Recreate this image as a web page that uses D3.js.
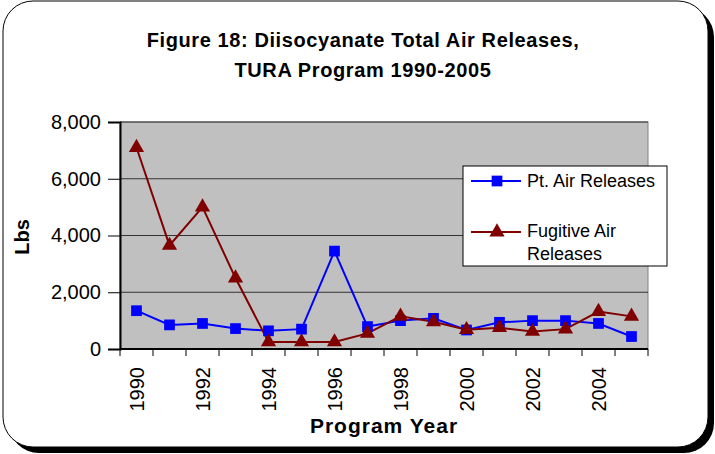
<!DOCTYPE html>
<html>
<head>
<meta charset="utf-8">
<script src="https://cdn.jsdelivr.net/npm/d3@7"></script>
<style>
  body { margin: 0; background: #fff; }
  svg { display: block; font-family: "Liberation Sans", Arial, sans-serif; }
</style>
</head>
<body>
<div id="chart"></div>
<script>
// Datos
const years = ["1990","1991","1992","1993","1994","1995","1996","1997","1998","1999","2000","2001","2002","2003","2004","2005"];
const ptAir = [1350, 850, 900, 720, 640, 700, 3450, 790, 1000, 1080, 670, 940, 1000, 1000, 900, 440];
const fugitiveAir = [7100, 3650, 5000, 2500, 250, 250, 250, 550, 1150, 960, 680, 750, 620, 700, 1320, 1150];
const yTicks = [0, 2000, 4000, 6000, 8000];

const W = 715, H = 454;
const margin = { top: 122, right: 67, bottom: 105, left: 120 };
const width = W - margin.left - margin.right;
const height = H - margin.top - margin.bottom;

const svg = d3.select("#chart").append("svg")
    .attr("width", W)
    .attr("height", H);

// Marco redondeado con sombra
svg.append("rect")
    .attr("x", 9).attr("y", 7)
    .attr("width", 705).attr("height", 446)
    .attr("rx", 30).attr("ry", 30)
    .attr("fill", "#000");
svg.append("rect")
    .attr("x", 3).attr("y", 1)
    .attr("width", 705).attr("height", 446)
    .attr("rx", 30).attr("ry", 30)
    .attr("fill", "#fff")
    .attr("stroke", "#000")
    .attr("stroke-width", 1);

// Título
const title = svg.append("text")
    .attr("x", 363)
    .attr("text-anchor", "middle")
    .attr("font-weight", "bold")
    .attr("font-size", "20px")
    .attr("letter-spacing", "0.6px")
    .attr("fill", "#000");
title.append("tspan").attr("x", 363).attr("y", 47).text("Figure 18: Diisocyanate Total Air Releases,");
title.append("tspan").attr("x", 363).attr("y", 77).text("TURA Program 1990-2005");

const g = svg.append("g")
    .attr("transform", `translate(${margin.left}, ${margin.top})`);

// Escalas
const x = d3.scaleBand()
    .domain(years)
    .range([0, width])
    .padding(0);

const y = d3.scaleLinear()
    .domain([0, 8000])
    .range([height, 0]);

// Fondo del área de trazado
g.append("rect")
    .attr("width", width)
    .attr("height", height)
    .attr("fill", "#c0c0c0")
    .attr("stroke", "#808080")
    .attr("stroke-width", 1);

// Líneas de cuadrícula
g.selectAll(".grid")
    .data(yTicks.filter(d => d > 0))
    .join("line")
    .attr("class", "grid")
    .attr("x1", 0).attr("x2", width)
    .attr("y1", d => y(d)).attr("y2", d => y(d))
    .attr("stroke", "#333")
    .attr("stroke-width", 1);

// Eje Y
const yAxis = g.append("g")
    .call(d3.axisLeft(y).tickValues(yTicks).tickFormat(d3.format(",")).tickSize(12).tickPadding(7));
yAxis.select(".domain").attr("stroke", "#000").attr("stroke-width", 2);
yAxis.selectAll(".tick line").attr("stroke", "#000").attr("stroke-width", 1);
yAxis.selectAll("text")
    .attr("font-size", "20px")
    .attr("font-family", "Liberation Sans, Arial, sans-serif")
    .attr("fill", "#000");

// Eje X: marcas en los límites de cada categoría
const xAxis = g.append("g").attr("transform", `translate(0, ${height})`);
xAxis.append("line")
    .attr("x1", 0).attr("x2", width)
    .attr("stroke", "#000").attr("stroke-width", 2);
xAxis.selectAll(".xtick")
    .data(years.concat(["end"]))
    .join("line")
    .attr("class", "xtick")
    .attr("x1", (d, i) => i * x.step()).attr("x2", (d, i) => i * x.step())
    .attr("y1", 0).attr("y2", 7)
    .attr("stroke", "#000").attr("stroke-width", 1);
xAxis.selectAll(".xlabel")
    .data(years.filter((d, i) => i % 2 === 0))
    .join("text")
    .attr("class", "xlabel")
    .attr("transform", d => `translate(${x(d) + x.bandwidth() / 2 + 7}, 18) rotate(-90)`)
    .attr("text-anchor", "end")
    .attr("font-size", "20px")
    .attr("fill", "#000")
    .text(d => d);

// Títulos de ejes
svg.append("text")
    .attr("x", 384).attr("y", 433)
    .attr("text-anchor", "middle")
    .attr("font-weight", "bold")
    .attr("font-size", "21px")
    .attr("letter-spacing", "1px")
    .text("Program Year");

svg.append("text")
    .attr("transform", "translate(29, 237) rotate(-90)")
    .attr("text-anchor", "middle")
    .attr("font-weight", "bold")
    .attr("font-size", "20px")
    .text("Lbs");

// Líneas de series
const line = d3.line()
    .x((d, i) => x(years[i]) + x.bandwidth() / 2)
    .y(d => y(d));

g.append("path")
    .datum(ptAir)
    .attr("fill", "none")
    .attr("stroke", "#0000ff")
    .attr("stroke-width", 2)
    .attr("d", line);

g.append("path")
    .datum(fugitiveAir)
    .attr("fill", "none")
    .attr("stroke", "#800000")
    .attr("stroke-width", 2)
    .attr("d", line);

const square = d3.symbol().type(d3.symbolSquare).size(115);
const triangle = d3.symbol().type(d3.symbolTriangle).size(100);

g.selectAll(".pt")
    .data(ptAir)
    .join("path")
    .attr("class", "pt")
    .attr("transform", (d, i) => `translate(${x(years[i]) + x.bandwidth() / 2}, ${y(d)})`)
    .attr("d", square)
    .attr("fill", "#0000ff");

g.selectAll(".fug")
    .data(fugitiveAir)
    .join("path")
    .attr("class", "fug")
    .attr("transform", (d, i) => `translate(${x(years[i]) + x.bandwidth() / 2}, ${y(d)})`)
    .attr("d", triangle)
    .attr("fill", "#800000");

// Leyenda
const legend = svg.append("g").attr("transform", "translate(463, 166)");
legend.append("rect")
    .attr("width", 204).attr("height", 100)
    .attr("fill", "#fff")
    .attr("stroke", "#000")
    .attr("stroke-width", 1);

legend.append("line")
    .attr("x1", 8).attr("x2", 58).attr("y1", 15).attr("y2", 15)
    .attr("stroke", "#0000ff").attr("stroke-width", 2);
legend.append("path")
    .attr("transform", "translate(34, 15)")
    .attr("d", square)
    .attr("fill", "#0000ff");
legend.append("text")
    .attr("x", 64).attr("y", 21)
    .attr("font-size", "18px")
    .text("Pt. Air Releases");

legend.append("line")
    .attr("x1", 8).attr("x2", 58).attr("y1", 66).attr("y2", 66)
    .attr("stroke", "#800000").attr("stroke-width", 2);
legend.append("path")
    .attr("transform", "translate(34, 66)")
    .attr("d", triangle)
    .attr("fill", "#800000");
const fugText = legend.append("text")
    .attr("font-size", "18px");
fugText.append("tspan").attr("x", 64).attr("y", 71).text("Fugitive Air");
fugText.append("tspan").attr("x", 64).attr("y", 94).text("Releases");
</script>
</body>
</html>
